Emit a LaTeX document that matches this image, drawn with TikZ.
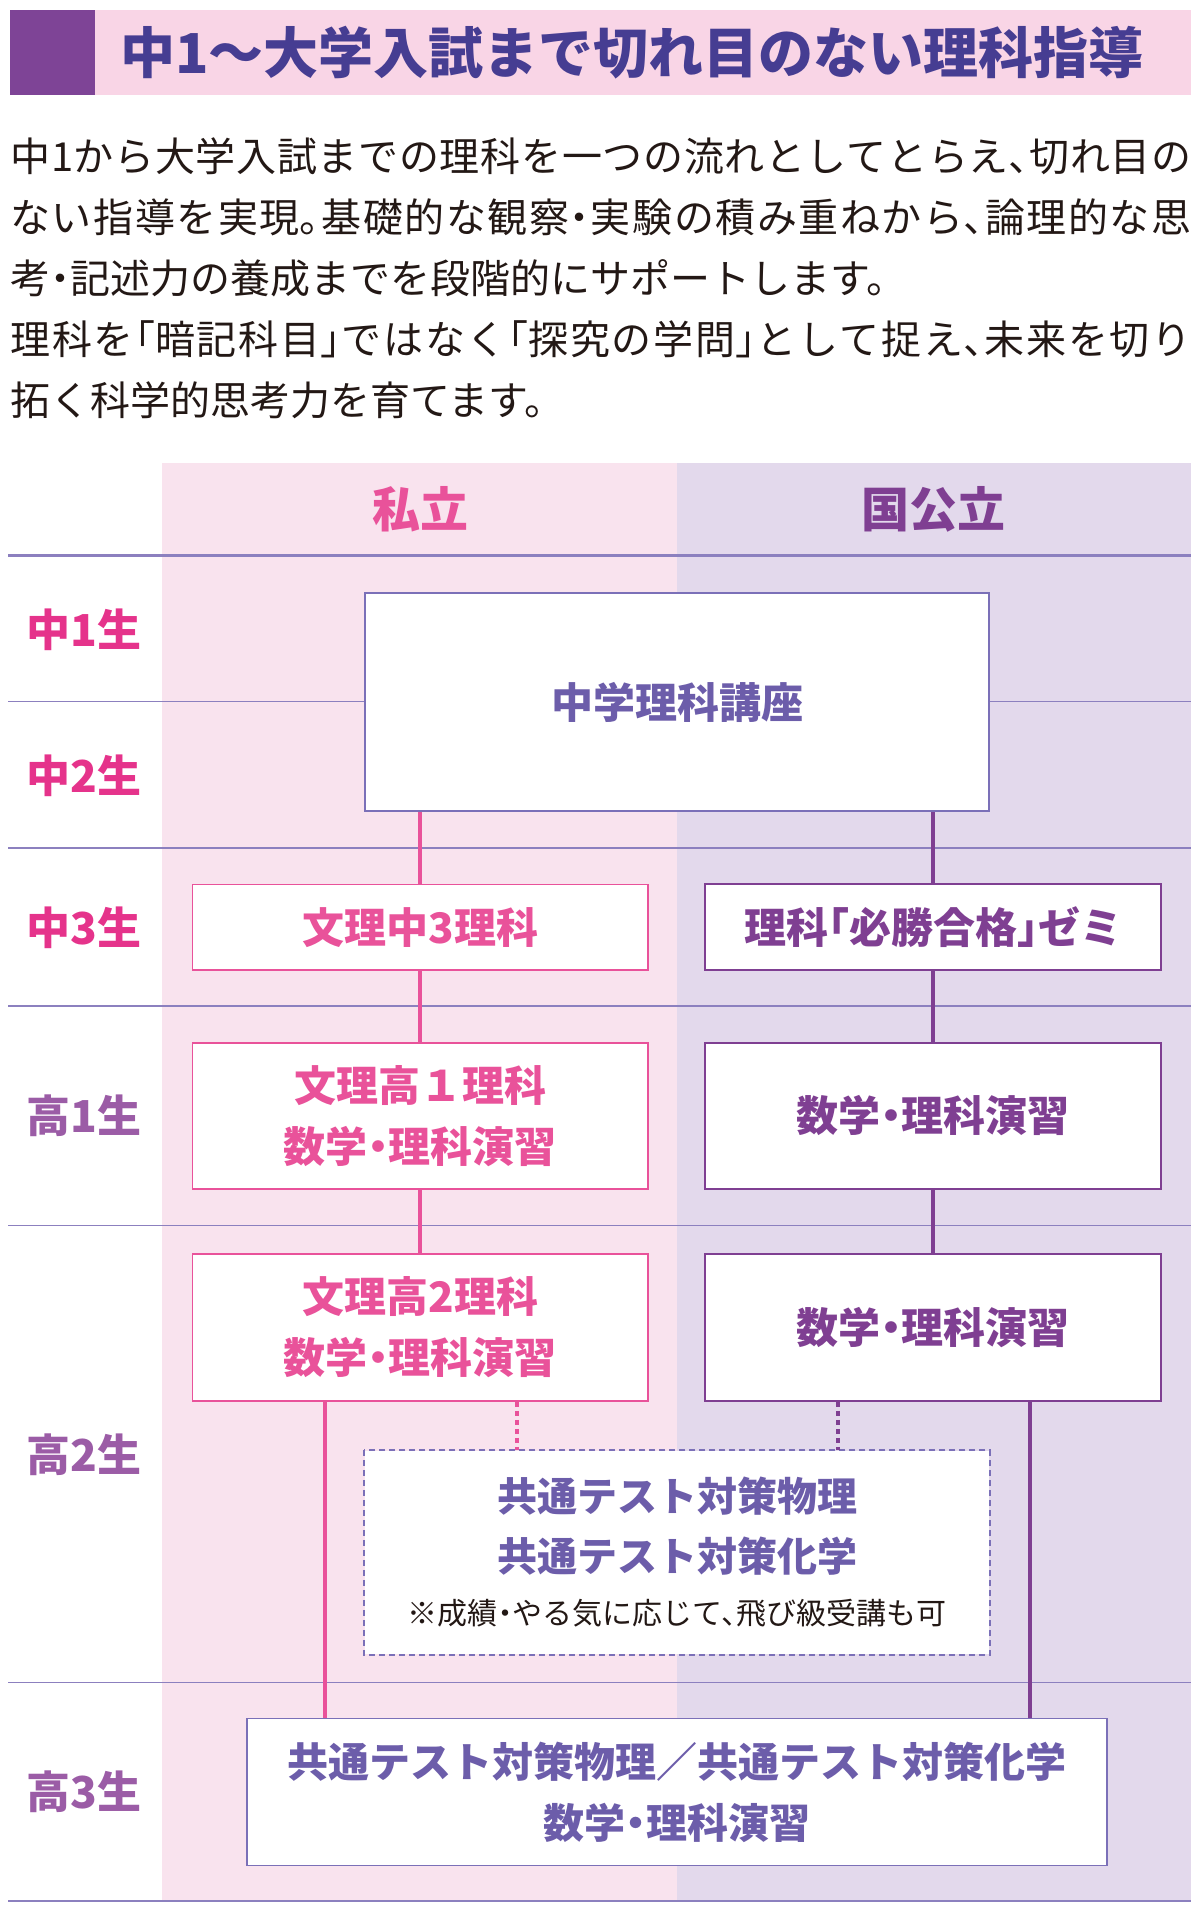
\documentclass[tikz,border=0pt]{standalone}
\usepackage{fontspec}
\setmainfont{Noto Sans CJK JP}[RawFeature=+halt]
\usepackage{tikz}
\XeTeXlinebreaklocale "ja"
\XeTeXlinebreakskip=0pt plus 3pt minus 0.5pt

\definecolor{hdrpink}{HTML}{F9D5E6}
\definecolor{hdrpurple}{HTML}{7E4496}
\definecolor{titleink}{HTML}{463D92}
\definecolor{bodyink}{HTML}{231815}
\definecolor{colpink}{HTML}{F9E3EE}
\definecolor{colpurple}{HTML}{E3D9EC}
\definecolor{rowrule}{HTML}{8C80BF}
\definecolor{chuink}{HTML}{E5338B}
\definecolor{kouink}{HTML}{9B5CA6}
\definecolor{shiritsu}{HTML}{E9529A}
\definecolor{kokko}{HTML}{7F3F92}
\definecolor{kyotsu}{HTML}{6C5DAA}
\definecolor{kyotsuline}{HTML}{7B70B8}

\begin{document}
\begin{tikzpicture}[x=0.5pt,y=0.5pt,yscale=-1,xscale=1,
  introline/.style={anchor=west,inner sep=0pt,text=bodyink,font=\fontsize{20}{30}\selectfont},
  introfull/.style={introline,text width=590.5pt,align=justify},
  rowlabel/.style={anchor=west,inner sep=0pt,font=\bfseries\fontsize{22}{26}\selectfont},
  boxtext/.style={inner sep=0pt,align=center,fill=white,line width=0.9pt,font=\bfseries\fontsize{21}{30.5}\selectfont},
  pinkbox/.style={boxtext,draw=shiritsu,text=shiritsu,minimum width=227.75pt},
  purplebox/.style={boxtext,draw=kokko,text=kokko,minimum width=228pt},
  kyotsubox/.style={boxtext,draw=kyotsuline,text=kyotsu,font=\bfseries\fontsize{20.5}{30.5}\selectfont},
  pinkflow/.style={draw=shiritsu,line width=2pt},
  purpleflow/.style={draw=kokko,line width=2pt},
  flowdots/.style={line width=2pt,dash pattern=on 2.5pt off 2pt}]
\useasboundingbox (0,0) rectangle (1200,1911);

%Shape: Rectangle (title band)
\fill[hdrpink] (10,10) rectangle (1191,95);
\fill[hdrpurple] (10,10) rectangle (95,95);
% Text Node
\node[anchor=west,inner sep=0pt,text=titleink,font=\bfseries\fontsize{27.5}{30}\selectfont] (title) at (120,53) {中1～大学入試まで切れ目のない理科指導};

% Text Node (intro)
\node[introfull] (intro1) at (10,156) {\parfillskip=0pt 中1から大学入試までの理科を一つの流れとしてとらえ、切れ目の\par};
\node[introfull] (intro2) at (10,217) {\parfillskip=0pt ない指導を実現。基礎的な観察・実験の積み重ねから、論理的な思\par};
\node[introline] (intro3) at (10,278) {考・記述力の養成までを段階的にサポートします。};
\node[introfull] (intro4) at (10,339) {\parfillskip=0pt 理科を「暗記科目」ではなく「探究の学問」として捉え、未来を切り\par};
\node[introline] (intro5) at (10,400) {拓く科学的思考力を育てます。};

%Shape: Rectangle (columns)
\fill[colpink] (162,463) rectangle (677,1900);
\fill[colpurple] (677,463) rectangle (1191,1900);

% Text Node
\node[inner sep=0pt,text=shiritsu,font=\bfseries\fontsize{24}{26}\selectfont] (shiritsu) at (420,509) {私立};
% Text Node
\node[inner sep=0pt,text=kokko,font=\bfseries\fontsize{24}{26}\selectfont] (kokkoritsu) at (933,509) {国公立};

%Straight Lines
\draw[rowrule,line width=1.25pt] (8,555.5) -- (1191,555.5);
\draw[rowrule,line width=0.75pt] (8,701.7) -- (1191,701.7);
\draw[rowrule,line width=0.75pt] (8,848) -- (1191,848);
\draw[rowrule,line width=0.75pt] (8,1006) -- (1191,1006);
\draw[rowrule,line width=0.75pt] (8,1225.6) -- (1191,1225.6);
\draw[rowrule,line width=0.75pt] (8,1682.5) -- (1191,1682.5);
\draw[rowrule,line width=1.25pt] (8,1901) -- (1191,1901);

% Text Node (grades)
\node[rowlabel,text=chuink] (chu1) at (26,630) {中1生};
\node[rowlabel,text=chuink] (chu2) at (26,776) {中2生};
\node[rowlabel,text=chuink] (chu3) at (26,928) {中3生};
\node[rowlabel,text=kouink] (kou1) at (26,1116) {高1生};
\node[rowlabel,text=kouink] (kou2) at (26,1455) {高2生};
\node[rowlabel,text=kouink] (kou3) at (26,1792) {高3生};

% Boxes
\node[kyotsubox,font=\bfseries\fontsize{21}{30.5}\selectfont,minimum width=312pt,minimum height=109pt] (chugaku) at (677,702) {中学理科講座};
\node[pinkbox,minimum height=42.75pt] (bunri3) at (420.25,927.25) {文理中3理科};
\node[purplebox,minimum height=43pt] (hisshou) at (933,927.25) {理科「必勝合格」ゼミ};
\node[pinkbox,minimum height=73pt] (bunri4) at (420.25,1116) {文理高１理科\\数学・理科演習};
\node[purplebox,minimum height=73pt] (enshu1) at (933,1116) {数学・理科演習};
\node[pinkbox,minimum height=73.5pt] (bunri5) at (420.25,1327.5) {文理高2理科\\数学・理科演習};
\node[purplebox,minimum height=73.5pt] (enshu2) at (933,1327.5) {数学・理科演習};
\node[kyotsubox,draw=none,minimum width=312pt,minimum height=101.5pt,font=\bfseries\fontsize{20}{30}\selectfont] (taisaku) at (677,1552.5)
  {共通テスト対策物理\\共通テスト対策化学\\[-3.5pt]{\mdseries\color{bodyink}\fontsize{15}{20}\selectfont ※成績・やる気に応じて、飛び級受講も可}};
\draw[kyotsuline,line width=0.9pt,dash pattern=on 3pt off 2pt] (taisaku.north west) rectangle (taisaku.south east);
\node[kyotsubox,minimum width=430pt,minimum height=73.5pt] (kou3kouza) at (677,1792) {共通テスト対策物理／共通テスト対策化学\\数学・理科演習};

% Connectors
\coordinate (pinkdrop) at (325,1400);
\coordinate (purpledrop) at (1029.5,1400);
\coordinate (pinkdot) at (517,1400);
\coordinate (purpledot) at (838,1400);
\draw[pinkflow] (chugaku.south -| bunri3.north) -- (bunri3.north);
\draw[pinkflow] (bunri3.south) -- (bunri4.north);
\draw[pinkflow] (bunri4.south) -- (bunri5.north);
\draw[pinkflow] (bunri5.south -| pinkdrop) -- (kou3kouza.north -| pinkdrop);
\draw[purpleflow] (chugaku.south -| hisshou.north) -- (hisshou.north);
\draw[purpleflow] (hisshou.south) -- (enshu1.north);
\draw[purpleflow] (enshu1.south) -- (enshu2.north);
\draw[purpleflow] (enshu2.south -| purpledrop) -- (kou3kouza.north -| purpledrop);
\draw[flowdots,shiritsu] (bunri5.south -| pinkdot) -- (taisaku.north -| pinkdot);
\draw[flowdots,kokko] (enshu2.south -| purpledot) -- (taisaku.north -| purpledot);

\end{tikzpicture}
\end{document}
